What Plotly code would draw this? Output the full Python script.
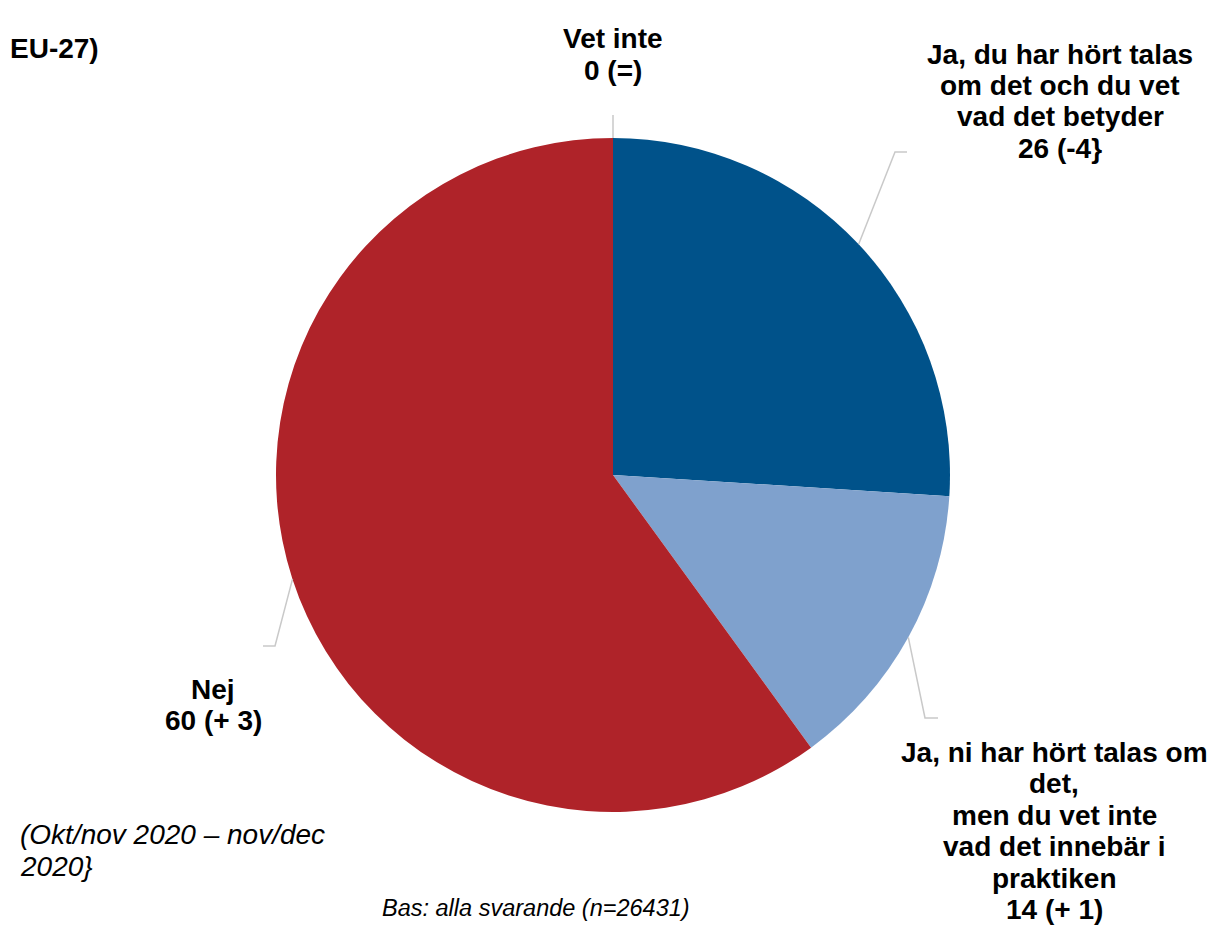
import math
import plotly.graph_objects as go

# ---- data ----
categories = ["Vet inte",
              "Ja, du har hört talas om det och du vet vad det betyder",
              "Ja, ni har hört talas om det, men du vet inte vad det innebär i praktiken",
              "Nej"]
values = [0, 26, 14, 60]
changes = ["(=)", "(-4}", "(+ 1)", "(+ 3)"]
label_lines = [
    ["Vet inte"],
    ["Ja, du har hört talas", "om det och du vet", "vad det betyder"],
    ["Ja, ni har hört talas om", "det,", "men du vet inte", "vad det innebär i", "praktiken"],
    ["Nej"],
]
colors = ["#BDBDBD", "#00528A", "#7FA1CD", "#AF2329"]
title_text = "EU-27)"
period_lines = ["(Okt/nov 2020 – nov/dec", "2020}"]
base_text = "Bas: alla svarande (n=26431)"

W, H = 1215, 929
# pie geometry (pixels)
CX, CY, R = 605, 467, 337

def px(x):
    return x / W

def py(y):
    return 1 - y / H

fig = go.Figure(go.Pie(
    labels=categories, values=values, sort=False, direction="clockwise",
    rotation=0, textinfo="none", hoverinfo="label+value",
    marker=dict(colors=colors, line=dict(width=0)),
    domain=dict(x=[px(CX - R), px(CX + R)], y=[py(CY + R), py(CY - R)]),
    showlegend=False,
))

# label layout: (center x, first line center y, elbow, end) in pixels
label_pos = [
    dict(x=605, y=31, elbow=(605, 107), end=(605, 107)),
    dict(x=1052, y=46, elbow=(887, 144), end=(899, 144)),
    dict(x=1046, y=744, elbow=(917, 710), end=(930, 710)),
    dict(x=205, y=681, elbow=(267, 638), end=(255, 638)),
]
LINE_H = 31.5
bold = dict(family="Liberation Sans, Arial, sans-serif", size=28, color="#000000", weight="bold")

total = sum(values)
cum = 0
shapes = []
annotations = []
for i, v in enumerate(values):
    mid = (cum + v / 2) / total * 2 * math.pi
    cum += v
    sx = CX + R * math.sin(mid)
    sy = CY - R * math.cos(mid)
    lp = label_pos[i]
    ex, ey = lp["elbow"]
    tx, ty = lp["end"]
    path = f"M {px(sx)} {py(sy)} L {px(ex)} {py(ey)} L {px(tx)} {py(ty)}"
    shapes.append(dict(type="path", xref="paper", yref="paper", path=path,
                       line=dict(color="#C9C9C9", width=1.5)))
    lines = label_lines[i] + [f"{v} {changes[i]}"]
    for k, t in enumerate(lines):
        annotations.append(dict(text=t, x=px(lp["x"]), y=py(lp["y"] + k * LINE_H),
                                xref="paper", yref="paper", showarrow=False,
                                xanchor="center", yanchor="middle", font=bold))

annotations.append(dict(text=title_text, x=0, y=py(40), xref="paper", yref="paper",
                        showarrow=False, xanchor="left", yanchor="middle", font=bold))
ital = dict(family="Liberation Sans, Arial, sans-serif", size=28, color="#000000", style="italic")
for k, t in enumerate(period_lines):
    annotations.append(dict(text=t, x=px(10), y=py(826 + k * 32), xref="paper", yref="paper",
                            showarrow=False, xanchor="left", yanchor="middle", font=ital))
annotations.append(dict(text=base_text, x=px(528), y=py(900), xref="paper", yref="paper",
                        showarrow=False, xanchor="center", yanchor="middle",
                        font=dict(ital, size=23.5)))

fig.update_layout(
    width=W, height=H, margin=dict(l=0, r=0, t=0, b=0),
    paper_bgcolor="white", plot_bgcolor="white",
    shapes=shapes, annotations=annotations,
)
fig.write_html("out.html")
